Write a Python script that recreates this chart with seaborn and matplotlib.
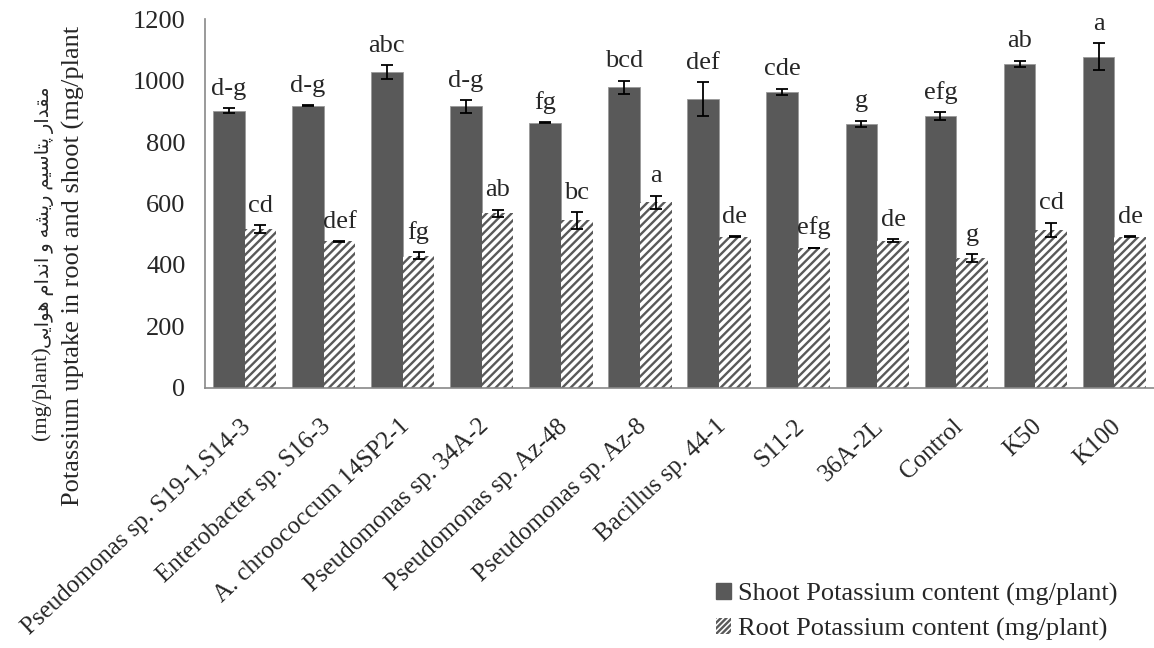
import numpy as np
import pandas as pd
import matplotlib
matplotlib.use("Agg")
import matplotlib.pyplot as plt
import matplotlib.transforms as mtransforms
import seaborn as sns
from matplotlib.patches import Patch

categories = ["Pseudomonas sp. S19-1,S14-3", "Enterobacter sp. S16-3", "A. chroococcum 14SP2-1",
              "Pseudomonas sp. 34A-2", "Pseudomonas sp. Az-48", "Pseudomonas sp. Az-8",
              "Bacillus sp. 44-1", "S11-2", "36A-2L", "Control", "K50", "K100"]
shoot = [902, 919, 1028, 916, 863, 978, 940, 964, 859, 885, 1054, 1078]
shoot_err = [9, 2, 22, 20, 1, 22, 55, 10, 11, 12, 11, 44]
root = [516, 476, 430, 568, 545, 604, 492, 455, 479, 422, 513, 492]
root_err = [12, 2, 12, 12, 27, 21, 2, 1, 5, 12, 24, 2]
shoot_letters = ["d-g", "d-g", "abc", "d-g", "fg", "bcd", "def", "cde", "g", "efg", "ab", "a"]
root_letters = ["cd", "def", "fg", "ab", "bc", "a", "de", "efg", "de", "g", "cd", "de"]
series = ["Shoot Potassium content (mg/plant)", "Root Potassium content (mg/plant)"]
yticks = [0, 200, 400, 600, 800, 1000, 1200]

# Persian label text (presentation forms, visual order built below)
persian_words = [
    "\uFEE3\uFED8\uFEAA\uFE8D\uFEAD",          # مقدار
    "\uFB58\uFE98\uFE8E\uFEB3\uFEF4\uFEE2",    # پتاسیم
    "\uFEAD\uFEF3\uFEB8\uFEEA",                # ریشه
    "\uFEED",                                  # و
    "\uFE8D\uFEE7\uFEAA\uFE8D\uFEE1",          # اندام
    "\uFEEB\uFEEE\uFE8D\uFEF3\uFEF0",          # هوایی
]
persian_visual = " ".join(persian_words)[::-1]
ylabel_unit = "(mg/plant)"
ylabel_line2 = "Potassium uptake in root and shoot (mg/plant"

sns.set_style("white")
plt.rcParams["font.family"] = ["Liberation Serif", "DejaVu Sans"]
plt.rcParams["hatch.linewidth"] = 1.7

df = pd.DataFrame({
    "cat": categories * 2,
    "val": shoot + root,
    "series": [series[0]] * len(categories) + [series[1]] * len(categories),
})

W, H = 1154, 648
fig = plt.figure(figsize=(W / 100, H / 100), dpi=100)
ax = fig.add_axes([205 / W, 1 - 387.5 / H, 1 - 205 / W, (387.5 - 19.3) / H])

dark = "#595959"
sns.barplot(data=df, x="cat", y="val", hue="series", order=categories, hue_order=series,
            palette=[dark, "white"], saturation=1, errorbar=None, width=0.8,
            legend=False, ax=ax)

shoot_bars, root_bars = ax.containers[0], ax.containers[1]
for p in shoot_bars:
    p.set_edgecolor("#9a9a9a")
    p.set_linewidth(0.6)
for p in root_bars:
    p.set_facecolor("white")
    p.set_edgecolor(dark)
    p.set_hatch("////")
    p.set_linewidth(0.0)

fs = 19
for bars, errs, letters in [(shoot_bars, shoot_err, shoot_letters), (root_bars, root_err, root_letters)]:
    xs = [p.get_x() + p.get_width() / 2 for p in bars]
    hs = [p.get_height() for p in bars]
    ax.errorbar(xs, hs, yerr=errs, fmt="none", ecolor="black", elinewidth=1.3,
                capsize=4.5, capthick=1.3, zorder=5)
    for x, h, e, lab in zip(xs, hs, errs, letters):
        ax.annotate(lab, (x, h + e), xytext=(0, 6), textcoords="offset points",
                    ha="center", va="bottom", fontsize=fs, annotation_clip=False)

ax.set_xlim(-0.5, len(categories) - 0.5)
ax.set_ylim(0, 1200)
ax.set_yticks(yticks)
ax.set_xticks(range(len(categories)))
ax.set_xticklabels(categories, rotation=43, ha="right", rotation_mode="anchor")
ax.set_xticks(np.arange(-0.5, len(categories), 1), minor=True)
ax.tick_params(axis="x", which="major", length=0, pad=20, labelsize=18)
ax.tick_params(axis="x", which="minor", length=6, width=1.2, color="#898989", direction="out")
ax.tick_params(axis="y", length=6, width=1.2, color="#898989", direction="out", pad=8, labelsize=fs)
shift = mtransforms.ScaledTranslation(-4 / 100, 0, fig.dpi_scale_trans)
for lab in ax.get_xticklabels():
    lab.set_transform(lab.get_transform() + shift)
ax.set_xlabel("")
ax.set_ylabel("")
for s in ["top", "right"]:
    ax.spines[s].set_visible(False)
for s in ["left", "bottom"]:
    ax.spines[s].set_color("#898989")
    ax.spines[s].set_linewidth(1.2)

fig.text(41 / W, 1 - 440 / H, ylabel_unit, rotation=90, ha="center", va="bottom", fontsize=16)
fig.text(45 / W, 1 - 86 / H, persian_visual, rotation=90, ha="center", va="top", fontsize=14)
fig.text(73 / W, 1 - 266 / H, ylabel_line2, rotation=90, ha="center", va="center", fontsize=fs)

handles = [Patch(facecolor=dark, edgecolor=dark, label=series[0]),
           Patch(facecolor="white", edgecolor=dark, hatch="//////", linewidth=0, label=series[1])]
fig.legend(handles=handles, loc="center left", bbox_to_anchor=(716 / W, 1 - 612 / H),
           frameon=False, fontsize=fs, handlelength=0.55, handleheight=0.55,
           handletextpad=0.3, labelspacing=0.45, borderpad=0, borderaxespad=0)

fig.savefig("out.png", dpi=100)
